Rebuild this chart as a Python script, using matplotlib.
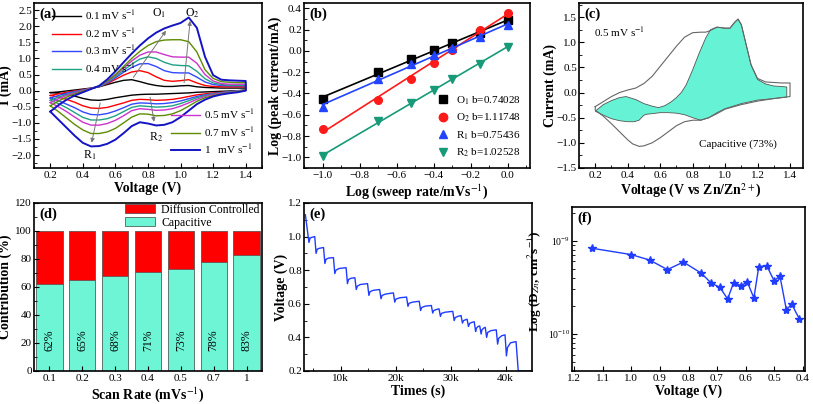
import numpy as np
import matplotlib
matplotlib.use('Agg')
import matplotlib.pyplot as plt
from matplotlib.ticker import MultipleLocator, NullFormatter, LogLocator

plt.rcParams['font.family'] = ['Liberation Serif', 'DejaVu Serif']
plt.rcParams['mathtext.fontset'] = 'stix'
plt.rcParams['xtick.direction'] = 'in'
plt.rcParams['ytick.direction'] = 'in'
plt.rcParams['xtick.labelsize'] = 8
plt.rcParams['ytick.labelsize'] = 8
plt.rcParams['xtick.major.size'] = 3.5
plt.rcParams['ytick.major.size'] = 3.5
plt.rcParams['xtick.minor.size'] = 2
plt.rcParams['ytick.minor.size'] = 2
plt.rcParams['xtick.major.pad'] = 2.5
plt.rcParams['ytick.major.pad'] = 1.5
plt.rcParams['axes.linewidth'] = 1.2

# ---------------- (a) CV at several scan rates ----------------
cv_volt = [0.20, 0.25, 0.30, 0.35, 0.40, 0.45, 0.50, 0.55, 0.60, 0.65, 0.70, 0.75, 0.80,
           0.85, 0.90, 0.95, 1.00, 1.05, 1.10, 1.15, 1.20, 1.25, 1.30, 1.35, 1.40]
scan_labels = ['0.1 mV s$^{-1}$', '0.2 mV s$^{-1}$', '0.3 mV s$^{-1}$', '0.4 mV s$^{-1}$',
               '0.5 mV s$^{-1}$', '0.7 mV s$^{-1}$', '1   mV s$^{-1}$']
scan_colors = ['#000000', '#ff0000', '#3347ff', '#1fa283', '#cc33cc', '#5e8c00', '#1414c4']

# anodic branch (0.2 -> 1.4), cathodic branch listed on the same voltage grid
anodic = [
    [-0.06, -0.04, -0.01, 0.02, 0.05, 0.08, 0.12, 0.19, 0.26, 0.32, 0.34, 0.28, 0.21,
     0.16, 0.13, 0.13, 0.15, 0.16, 0.12, 0.10, 0.09, 0.08, 0.08, 0.08, 0.08],
    [-0.15, -0.10, -0.05, -0.01, 0.03, 0.07, 0.12, 0.22, 0.35, 0.48, 0.58, 0.62, 0.56,
     0.43, 0.32, 0.29, 0.31, 0.34, 0.24, 0.16, 0.13, 0.12, 0.12, 0.12, 0.12],
    [-0.23, -0.15, -0.08, -0.03, 0.02, 0.07, 0.12, 0.24, 0.40, 0.57, 0.72, 0.83, 0.84,
     0.75, 0.62, 0.56, 0.55, 0.55, 0.42, 0.27, 0.19, 0.16, 0.15, 0.15, 0.15],
    [-0.30, -0.20, -0.12, -0.05, 0.01, 0.07, 0.13, 0.26, 0.44, 0.63, 0.82, 0.98, 1.05,
     1.00, 0.88, 0.80, 0.78, 0.77, 0.60, 0.37, 0.24, 0.19, 0.17, 0.17, 0.17],
    [-0.37, -0.25, -0.15, -0.07, 0.00, 0.07, 0.14, 0.28, 0.48, 0.70, 0.92, 1.10, 1.20,
     1.20, 1.12, 1.05, 1.04, 1.04, 0.85, 0.50, 0.30, 0.22, 0.20, 0.20, 0.20],
    [-0.47, -0.32, -0.20, -0.10, -0.02, 0.06, 0.14, 0.30, 0.50, 0.75, 1.00, 1.22, 1.40,
     1.52, 1.57, 1.58, 1.58, 1.52, 1.20, 0.65, 0.38, 0.28, 0.26, 0.25, 0.25],
    [-0.65, -0.45, -0.28, -0.15, -0.05, 0.05, 0.15, 0.35, 0.60, 0.88, 1.15, 1.40, 1.62,
     1.80, 1.93, 2.02, 2.10, 2.27, 1.95, 1.05, 0.48, 0.34, 0.32, 0.31, 0.30],
]
cathodic = [
    [-0.06, -0.08, -0.11, -0.17, -0.24, -0.29, -0.30, -0.27, -0.22, -0.18, -0.14, -0.12, -0.11,
     -0.11, -0.10, -0.09, -0.08, -0.07, -0.05, -0.04, -0.03, -0.02, -0.01, 0.00, 0.01],
    [-0.15, -0.20, -0.27, -0.36, -0.47, -0.54, -0.55, -0.52, -0.45, -0.38, -0.30, -0.27, -0.28,
     -0.30, -0.29, -0.27, -0.23, -0.18, -0.13, -0.10, -0.07, -0.05, -0.03, -0.01, 0.01],
    [-0.23, -0.31, -0.42, -0.53, -0.66, -0.74, -0.75, -0.71, -0.63, -0.53, -0.42, -0.38, -0.39,
     -0.41, -0.40, -0.37, -0.32, -0.25, -0.18, -0.13, -0.09, -0.06, -0.03, -0.01, 0.02],
    [-0.30, -0.40, -0.53, -0.68, -0.83, -0.91, -0.91, -0.87, -0.78, -0.65, -0.52, -0.47, -0.49,
     -0.51, -0.50, -0.47, -0.40, -0.31, -0.22, -0.15, -0.10, -0.07, -0.04, -0.01, 0.03],
    [-0.37, -0.50, -0.65, -0.82, -0.98, -1.07, -1.07, -1.02, -0.92, -0.78, -0.62, -0.56, -0.58,
     -0.61, -0.60, -0.56, -0.48, -0.38, -0.27, -0.18, -0.12, -0.08, -0.05, -0.02, 0.03],
    [-0.47, -0.65, -0.85, -1.05, -1.22, -1.33, -1.33, -1.28, -1.17, -1.00, -0.82, -0.72, -0.73,
     -0.78, -0.77, -0.72, -0.62, -0.48, -0.33, -0.22, -0.15, -0.10, -0.06, -0.03, 0.02],
    [-0.65, -0.90, -1.15, -1.40, -1.62, -1.73, -1.72, -1.65, -1.52, -1.32, -1.10, -0.98, -1.02,
     -1.08, -1.06, -0.98, -0.82, -0.62, -0.42, -0.28, -0.18, -0.12, -0.08, -0.05, 0.00],
]

# ---------------- (b) log peak current vs log sweep rate ----------------
log_rate = [-1.0, -0.70, -0.52, -0.40, -0.30, -0.15, 0.0]
peak_O1 = [-0.45, -0.20, -0.08, 0.01, 0.07, 0.17, 0.29]
peak_O2 = [-0.73, -0.46, -0.26, -0.11, 0.01, 0.20, 0.36]
peak_R1 = [-0.53, -0.26, -0.12, -0.04, 0.03, 0.13, 0.24]
peak_R2 = [-0.99, -0.66, -0.49, -0.37, -0.26, -0.12, 0.04]
peak_labels = ['O$_1$ b=0.74028', 'O$_2$ b=1.11748', 'R$_1$ b=0.75436', 'R$_2$ b=1.02528']

# ---------------- (c) capacitive separation at 0.5 mV/s ----------------
total_v = [0.20, 0.25, 0.30, 0.35, 0.40, 0.45, 0.50, 0.55, 0.60, 0.65, 0.70, 0.75, 0.80, 0.85,
           0.88, 0.90, 0.95, 1.00, 1.03, 1.06, 1.08, 1.10, 1.13, 1.16, 1.20, 1.25, 1.30, 1.35,
           1.40, 1.40, 1.35, 1.30, 1.20, 1.10, 1.00, 0.95, 0.90, 0.85, 0.80, 0.75, 0.70, 0.65,
           0.60, 0.55, 0.50, 0.47, 0.43, 0.40, 0.35, 0.30, 0.25, 0.20, 0.20]
total_i = [-0.28, -0.18, -0.08, 0.00, 0.05, 0.09, 0.18, 0.32, 0.52, 0.72, 0.92, 1.10, 1.19, 1.20,
           1.20, 1.22, 1.30, 1.28, 1.28, 1.40, 1.46, 1.35, 0.95, 0.55, 0.28, 0.21, 0.20, 0.19,
           0.19, -0.08, -0.10, -0.12, -0.17, -0.24, -0.33, -0.42, -0.50, -0.55, -0.55, -0.58, -0.66, -0.78,
           -0.90, -1.00, -1.06, -1.07, -1.02, -0.94, -0.78, -0.62, -0.47, -0.35, -0.28]
cap_v = [0.20, 0.25, 0.30, 0.35, 0.39, 0.45, 0.50, 0.55, 0.59, 0.63, 0.67, 0.70, 0.73, 0.76,
         0.80, 0.84, 0.88, 0.91, 0.95, 1.00, 1.03, 1.06, 1.08, 1.10, 1.13, 1.16, 1.20, 1.25,
         1.30, 1.35, 1.38, 1.38, 1.30, 1.20, 1.10, 1.00, 0.95, 0.90, 0.85, 0.80, 0.75, 0.70,
         0.65, 0.60, 0.55, 0.52, 0.50, 0.47, 0.44, 0.40, 0.35, 0.30, 0.25]
cap_i = [-0.37, -0.24, -0.16, -0.10, -0.08, -0.14, -0.22, -0.27, -0.30, -0.26, -0.18, -0.10, 0.00, 0.15,
         0.45, 0.78, 1.08, 1.25, 1.30, 1.28, 1.28, 1.40, 1.46, 1.35, 0.95, 0.55, 0.26, 0.17,
         0.13, 0.12, 0.11, -0.09, -0.12, -0.15, -0.22, -0.32, -0.40, -0.50, -0.55, -0.50, -0.44, -0.41,
         -0.40, -0.40, -0.42, -0.43, -0.45, -0.55, -0.58, -0.58, -0.56, -0.52, -0.45]

# ---------------- (d) contribution bars ----------------
rate_labels = ['0.1', '0.2', '0.3', '0.4', '0.5', '0.7', '1']
capacitive_pct = [62, 65, 68, 71, 73, 78, 83]

# ---------------- (e) GITT profile ----------------
gitt_t = [3600, 4250, 4450, 4700, 5300,
          5550, 5750, 6100, 6900,
          7150, 7350, 7800, 8700,
          8950, 9150, 9700, 11000,
          11250, 11450, 11900, 12600,
          12850, 13050, 13600, 14900,
          15150, 15350, 15900, 17100,
          17350, 17550, 18200, 19600,
          19850, 20050, 20800, 22000,
          22250, 22450, 23100, 24300,
          24550, 24750, 25400, 26500,
          26750, 26950, 27400, 27900,
          28150, 28350, 29000, 30400,
          30650, 30850, 31300, 31900,
          32150, 32350, 32700, 33000,
          33250, 33450, 33900, 34300,
          34550, 34700, 35000, 35300,
          35550, 35700, 36000, 36300,
          36550, 36750, 37300, 38300,
          38550, 38750, 39300, 39900,
          40150, 40350, 40900, 41900,
          42300, 44800]
gitt_v = [1.13, 0.965, 0.99, 0.995, 1.0,
          0.90, 0.925, 0.93, 0.935,
          0.84, 0.865, 0.872, 0.875,
          0.78, 0.80, 0.81, 0.815,
          0.72, 0.745, 0.752, 0.755,
          0.685, 0.705, 0.715, 0.72,
          0.65, 0.672, 0.68, 0.685,
          0.63, 0.65, 0.658, 0.665,
          0.61, 0.628, 0.636, 0.64,
          0.585, 0.603, 0.61, 0.615,
          0.56, 0.578, 0.586, 0.59,
          0.545, 0.56, 0.566, 0.57,
          0.525, 0.543, 0.55, 0.555,
          0.50, 0.518, 0.525, 0.53,
          0.485, 0.50, 0.505, 0.508,
          0.465, 0.483, 0.49, 0.493,
          0.435, 0.455, 0.465, 0.468,
          0.42, 0.445, 0.455, 0.46,
          0.40, 0.43, 0.44, 0.445,
          0.36, 0.395, 0.41, 0.415,
          0.29, 0.34, 0.368, 0.375,
          0.20, 0.20]

# ---------------- (f) diffusion coefficient ----------------
diff_v = [1.138, 1.001, 0.936, 0.874, 0.818, 0.756, 0.72, 0.69, 0.663, 0.642,
          0.616, 0.594, 0.571, 0.554, 0.526, 0.50, 0.48, 0.457, 0.439, 0.412]
diff_d = [8.3e-10, 7.1e-10, 6.2e-10, 4.9e-10, 5.9e-10, 4.5e-10, 3.5e-10, 3.16e-10, 2.37e-10, 3.55e-10,
          3.3e-10, 3.6e-10, 2.43e-10, 5.25e-10, 5.4e-10, 3.7e-10, 4.2e-10, 1.8e-10, 2.1e-10, 1.45e-10]
diff_ticks = [1e-10, 1e-9]


def px_axes(fig, left, top, right, bottom):
    W, H = 813, 404
    return fig.add_axes([left / W, 1 - bottom / H, (right - left) / W, (bottom - top) / H])


def style(ax, tag):
    ax.tick_params(which='both', top=False, right=False)
    ax.text(0.025, 0.975, tag, transform=ax.transAxes, fontsize=10.5,
            fontweight='bold', va='top', ha='left')


fig = plt.figure(figsize=(8.13, 4.04), dpi=100)

# ----- (a)
ax = px_axes(fig, 34, 3, 262, 168)
lines = []
for k in range(7):
    x = cv_volt + cv_volt[::-1]
    y = anodic[k] + cathodic[k][::-1]
    lw = 1.4 if k == 6 else 1.0
    ln, = ax.plot(x, y, color=scan_colors[k], lw=lw, label=scan_labels[k])
    lines.append(ln)
arrow_kw = dict(arrowstyle='-|>', color='#777777', lw=0.7, mutation_scale=6)
ax.annotate('', xy=(0.92, 1.93), xytext=(0.70, 0.34), arrowprops=arrow_kw)
ax.annotate('', xy=(1.06, 2.25), xytext=(1.02, 0.16), arrowprops=arrow_kw)
ax.annotate('', xy=(0.45, -1.70), xytext=(0.51, -0.30), arrowprops=arrow_kw)
ax.annotate('', xy=(0.84, -1.05), xytext=(0.81, -0.12), arrowprops=arrow_kw)
ax.text(0.87, 2.3, 'O$_1$', fontsize=8.5, ha='center')
ax.text(1.07, 2.3, 'O$_2$', fontsize=8.5, ha='center')
ax.text(0.44, -2.12, 'R$_1$', fontsize=8.5, ha='center')
ax.text(0.85, -1.55, 'R$_2$', fontsize=8.5, ha='center')
leg1 = ax.legend(handles=lines[:4], loc='upper left', bbox_to_anchor=(0.05, 1.01),
                 frameon=False, fontsize=8, handlelength=2.6, labelspacing=0.35,
                 handletextpad=0.4, borderaxespad=0.2)
ax.add_artist(leg1)
ax.legend(handles=lines[4:], loc='lower right', bbox_to_anchor=(1.0, 0.03),
          frameon=False, fontsize=8, handlelength=2.6, labelspacing=0.35,
          handletextpad=0.4, borderaxespad=0.2)
ax.set_xlim(0.1, 1.5)
ax.set_ylim(-2.4, 2.72)
ax.xaxis.set_major_locator(MultipleLocator(0.2))
ax.xaxis.set_minor_locator(MultipleLocator(0.1))
ax.yaxis.set_major_locator(MultipleLocator(0.5))
ax.yaxis.set_minor_locator(MultipleLocator(0.25))
ax.set_xlabel('Voltage (V)', fontsize=10, fontweight='bold', labelpad=1)
ax.set_ylabel('I (mA)', fontsize=10, fontweight='bold')
ax.yaxis.set_label_coords(-0.095, 0.5)
style(ax, '(a)')

# ----- (b)
ax = px_axes(fig, 304, 3, 530, 168)
series = [peak_O1, peak_O2, peak_R1, peak_R2]
b_colors = ['#000000', '#ff1a1a', '#2244ff', '#179a78']
b_markers = ['s', 'o', '^', 'v']
handles = []
for vals, c, m, lab in zip(series, b_colors, b_markers, peak_labels):
    slope, icpt = np.polyfit(log_rate, vals, 1)
    xs = np.array([log_rate[0], log_rate[-1]])
    ax.plot(xs, slope * xs + icpt, color=c, lw=1.2)
    h, = ax.plot(log_rate, vals, ls='none', marker=m, color=c, ms=5.5, label=lab)
    handles.append(h)
ax.legend(handles=handles, loc='lower right', frameon=False, fontsize=8,
          handletextpad=0.2, labelspacing=0.45, borderaxespad=0.4, markerscale=1.1)
ax.set_xlim(-1.1, 0.12)
ax.set_ylim(-1.1, 0.45)
ax.xaxis.set_major_locator(MultipleLocator(0.2))
ax.xaxis.set_minor_locator(MultipleLocator(0.1))
ax.yaxis.set_major_locator(MultipleLocator(0.2))
ax.yaxis.set_minor_locator(MultipleLocator(0.1))
ax.set_xlabel('Log (sweep rate/mVs$^{-1}$)', fontsize=10, fontweight='bold', labelpad=1)
ax.set_ylabel('Log (peak current/mA)', fontsize=10, fontweight='bold', labelpad=0)
style(ax, '(b)')

# ----- (c)
ax = px_axes(fig, 579, 3, 803, 168)
ax.fill(cap_v, cap_i, facecolor='#66f2d4', edgecolor='#555555', lw=0.6)
ax.plot(total_v, total_i, color='#666666', lw=0.8)
ax.text(0.35, 1.1, '0.5 mV s$^{-1}$', fontsize=8, ha='center')
ax.text(1.08, -1.02, 'Capacitive (73%)', fontsize=8, ha='center', va='center')
ax.set_xlim(0.1, 1.48)
ax.set_ylim(-1.5, 1.78)
ax.xaxis.set_major_locator(MultipleLocator(0.2))
ax.xaxis.set_minor_locator(MultipleLocator(0.1))
ax.yaxis.set_major_locator(MultipleLocator(0.5))
ax.yaxis.set_minor_locator(MultipleLocator(0.25))
ax.set_xlabel('Voltage (V vs Zn/Zn$^{2+}$)', fontsize=10, fontweight='bold', labelpad=1)
ax.set_ylabel('Current (mA)', fontsize=10, fontweight='bold', labelpad=0)
style(ax, '(c)')

# ----- (d)
ax = px_axes(fig, 34, 203, 262, 371)
pos = np.arange(len(rate_labels))
diff_pct = [100 - v for v in capacitive_pct]
ax.bar(pos, capacitive_pct, width=0.8, color='#6ef5d6', edgecolor='#5a7a70', lw=0.7,
       label='Capacitive')
ax.bar(pos, diff_pct, width=0.8, bottom=capacitive_pct, color='#ff0000',
       edgecolor='#7a5555', lw=0.7, label='Diffusion Controlled')
for p, v in zip(pos, capacitive_pct):
    ax.text(p, 22, f'{v}%', rotation=90, ha='center', va='center', fontsize=8.5)
h, l = ax.get_legend_handles_labels()
ax.legend(h[::-1], l[::-1], loc='upper right', bbox_to_anchor=(1.0, 1.01), frameon=False,
          fontsize=8.5, handlelength=2.6, handleheight=0.8, labelspacing=0.1,
          borderaxespad=0.1, borderpad=0.1, handletextpad=0.5)
ax.set_xlim(-0.47, 6.47)
ax.set_ylim(0, 120)
ax.set_xticks(pos)
ax.set_xticklabels(rate_labels)
ax.yaxis.set_major_locator(MultipleLocator(20))
ax.yaxis.set_minor_locator(MultipleLocator(10))
ax.set_xlabel('Scan Rate (mVs$^{-1}$)', fontsize=10, fontweight='bold', labelpad=1)
ax.set_ylabel('Contribution (%)', fontsize=10, fontweight='bold')
ax.yaxis.set_label_coords(-0.095, 0.5)
style(ax, '(d)')

# ----- (e)
ax = px_axes(fig, 304, 203, 532, 371)
ax.plot(gitt_t, gitt_v, color='#1f3cff', lw=1.0)
ax.set_xlim(3350, 44800)
ax.set_ylim(0.2, 1.2)
ax.set_xticks([10000, 20000, 30000, 40000])
ax.set_xticklabels(['10k', '20k', '30k', '40k'])
ax.xaxis.set_minor_locator(MultipleLocator(5000))
ax.yaxis.set_major_locator(MultipleLocator(0.2))
ax.yaxis.set_minor_locator(MultipleLocator(0.1))
ax.set_xlabel('Times (s)', fontsize=10, fontweight='bold', labelpad=1)
ax.set_ylabel('Voltage (V)', fontsize=10, fontweight='bold', labelpad=0)
style(ax, '(e)')

# ----- (f)
ax = px_axes(fig, 572, 207, 805, 371)
ax.plot(diff_v, diff_d, color='#1f3cff', lw=1.0, marker='*', ms=6)
ax.set_yscale('log')
ax.set_xlim(1.208, 0.392)
ax.set_ylim(4e-11, 2.3e-9)
ax.xaxis.set_major_locator(MultipleLocator(0.1))
ax.set_yticks(diff_ticks)
ax.yaxis.set_minor_locator(LogLocator(base=10, subs=(2, 3, 4, 5, 6, 7, 8, 9)))
ax.yaxis.set_minor_formatter(NullFormatter())
ax.tick_params(axis='y', which='minor', labelleft=False)
ax.tick_params(axis='y', which='major', labelsize=7)
ax.set_xlabel('Voltage (V)', fontsize=10, fontweight='bold', labelpad=1)
ax.set_ylabel('Log (D$_{Zn}$, cm$^{2}$s$^{-1}$)', fontsize=9.5, fontweight='bold')
ax.yaxis.set_label_coords(-0.12, 0.55)
style(ax, '(f)')

fig.savefig('out.png', dpi=100)
